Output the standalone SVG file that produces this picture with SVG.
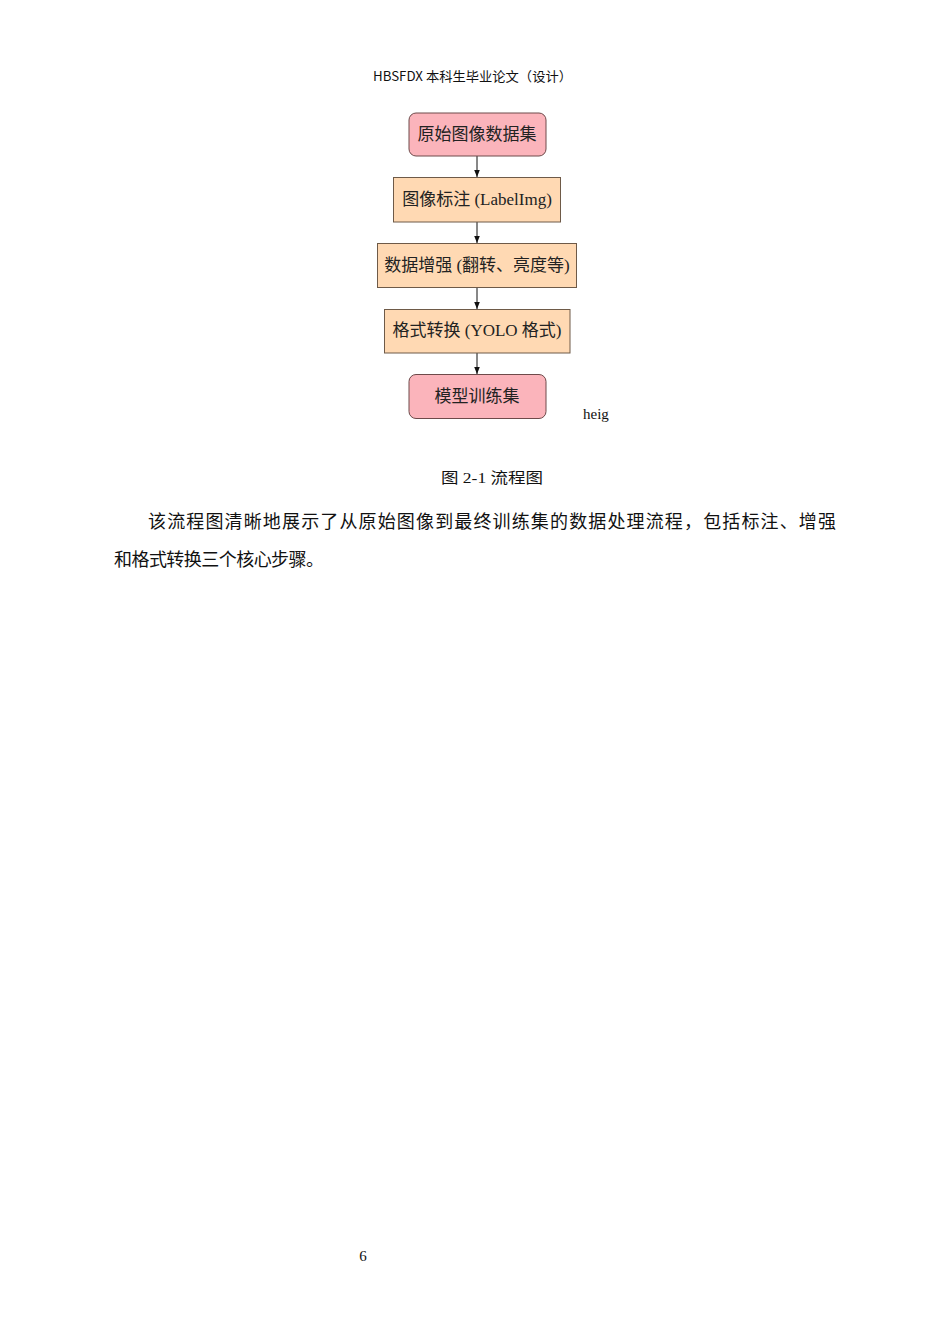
<svg xmlns="http://www.w3.org/2000/svg" width="950" height="1344" viewBox="0 0 950 1344">
<style>
.pg{fill:#ffffff}
.term{fill:#fbb4bb;stroke:#6e4a4a;stroke-width:1}
.proc{fill:#ffd9b3;stroke:#6e5a48;stroke-width:1}
.lbl{font-family:"Liberation Serif","Noto Sans CJK SC",serif;font-size:17px;fill:#222;text-anchor:middle}
.hdr{font-family:"Noto Sans CJK SC",sans-serif;font-size:13px;fill:#111}
.body{font-family:"Liberation Serif","Noto Sans CJK SC",serif;font-size:18px;fill:#111}
.cap{font-family:"Liberation Serif","Noto Sans CJK SC",serif;font-size:15px;fill:#111}
.conn{stroke:#111;stroke-width:1;fill:none}
</style>
<defs>
<marker id="ah" viewBox="0 0 10 10" refX="10" refY="5" markerWidth="7" markerHeight="7" markerUnits="userSpaceOnUse" orient="auto">
<path d="M0,1 L10,5 L0,9 z" fill="#111"/>
</marker>
</defs>
<rect class="pg" x="0" y="0" width="950" height="1344"/>
<text class="hdr" x="373" y="81" textLength="199" lengthAdjust="spacingAndGlyphs">HBSFDX 本科生毕业论文（设计）</text>
<g id="connectors">
<line class="conn" x1="477" y1="156" x2="477" y2="177" marker-end="url(#ah)"/>
<line class="conn" x1="477" y1="222" x2="477" y2="243" marker-end="url(#ah)"/>
<line class="conn" x1="477" y1="287" x2="477" y2="309" marker-end="url(#ah)"/>
<line class="conn" x1="477" y1="353" x2="477" y2="374" marker-end="url(#ah)"/>
</g>
<g id="n1">
<rect class="term" x="409" y="113" width="137" height="43" rx="7"/>
<text class="lbl" x="477" y="140">原始图像数据集</text>
</g>
<g id="n2">
<rect class="proc" x="393.5" y="177.5" width="167" height="44.5"/>
<text class="lbl" x="477" y="205">图像标注 (LabelImg)</text>
</g>
<g id="n3">
<rect class="proc" x="377.5" y="243.5" width="199" height="44"/>
<text class="lbl" x="477" y="271">数据增强 (翻转、亮度等)</text>
</g>
<g id="n4">
<rect class="proc" x="384.5" y="309.5" width="185.5" height="43.5"/>
<text class="lbl" x="477" y="336">格式转换 (YOLO 格式)</text>
</g>
<g id="n5">
<rect class="term" x="409" y="374.5" width="137" height="44" rx="7"/>
<text class="lbl" x="477" y="402">模型训练集</text>
</g>
<text class="cap" x="583" y="419" font-size="16">heig</text>
<text class="cap" x="441" y="483" textLength="102" lengthAdjust="spacingAndGlyphs">图 2-1 流程图</text>
<text class="body" x="148" y="528" textLength="688" lengthAdjust="spacing">该流程图清晰地展示了从原始图像到最终训练集的数据处理流程，包括标注、增强</text>
<text class="body" x="114" y="566" textLength="210" lengthAdjust="spacing">和格式转换三个核心步骤。</text>
<text class="cap" x="363" y="1261" text-anchor="middle" font-size="14">6</text>
</svg>
